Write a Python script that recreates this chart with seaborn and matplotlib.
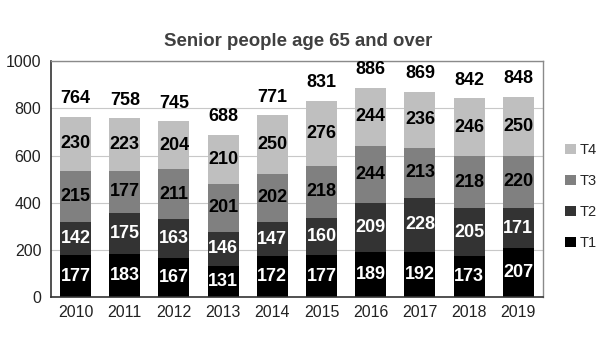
import matplotlib
matplotlib.use("Agg")
import matplotlib.pyplot as plt
import numpy as np
import pandas as pd
import seaborn as sns

sns.set_style("white")
plt.rcParams['font.family'] = ['Liberation Sans', 'DejaVu Sans']

# data
years = ['2010', '2011', '2012', '2013', '2014', '2015', '2016', '2017', '2018', '2019']
t1 = [177, 183, 167, 131, 172, 177, 189, 192, 173, 207]
t2 = [142, 175, 163, 146, 147, 160, 209, 228, 205, 171]
t3 = [215, 177, 211, 201, 202, 218, 244, 213, 218, 220]
t4 = [230, 223, 204, 210, 250, 276, 244, 236, 246, 250]
series = ['T1', 'T2', 'T3', 'T4']
colors = ['#000000', '#333333', '#808080', '#bfbfbf']
text_colors = ['white', 'white', 'black', 'black']

df = pd.DataFrame({'year': years, 'T1': t1, 'T2': t2, 'T3': t3, 'T4': t4})

fig = plt.figure(figsize=(5.97, 3.64), dpi=100)
ax = fig.add_axes([0.0854, 0.184, 0.824, 0.648])

bottom = np.zeros(len(years))
for s, c, tc in zip(series, colors, text_colors):
    sns.barplot(data=df, x='year', y=s, color=c, bottom=bottom, width=0.63,
                saturation=1, ax=ax, label=s, edgecolor='none')
    for i, v in enumerate(df[s]):
        ax.text(i, bottom[i] + v / 2, str(v), ha='center', va='center',
                fontsize=13, fontweight='bold', color=tc)
    bottom = bottom + df[s].values

# totals above the bars
for i, tot in enumerate(bottom):
    ax.annotate(str(int(tot)), (i, tot), xytext=(0, 13), textcoords='offset points',
                ha='center', va='center', fontsize=13, fontweight='bold', color='black')

ax.set_ylim(0, 1000)
ax.set_xlim(-0.5, len(years) - 0.5)
ax.set_yticks(range(0, 1001, 200))
ax.yaxis.grid(True, color='#c8c8c8', linewidth=0.8)
ax.set_axisbelow(True)
ax.set_xlabel('')
ax.set_ylabel('')

ax.set_xticks(range(len(years)))
ax.set_xticklabels(years)
ax.set_xticks(np.arange(-0.5, len(years)), minor=True)
ax.tick_params(axis='x', which='major', length=0, labelsize=11.5, pad=6, colors='#222222')
ax.tick_params(axis='x', which='minor', length=4, width=1, color='#333333', direction='out')
ax.tick_params(axis='y', length=4, width=1, color='#333333', labelsize=11.5, pad=3,
               direction='out', labelcolor='#222222')

for side in ['left', 'bottom']:
    ax.spines[side].set_color('#333333')
    ax.spines[side].set_linewidth(1.2)
for side in ['top', 'right']:
    ax.spines[side].set_color('#8a8a8a')
    ax.spines[side].set_linewidth(1)

fig.suptitle('Senior people age 65 and over', x=0.499, y=0.91, fontsize=13.4,
             fontweight='bold', color='#404040')

handles, labels = ax.get_legend_handles_labels()
if ax.get_legend() is not None:
    ax.get_legend().remove()
leg = fig.legend(handles[::-1], labels[::-1], loc='center left', bbox_to_anchor=(0.925, 0.46),
                 frameon=False, fontsize=10.5, handlelength=0.7, handleheight=0.7,
                 handletextpad=0.3, labelspacing=1.15)

plt.savefig('out.png', dpi=100)
